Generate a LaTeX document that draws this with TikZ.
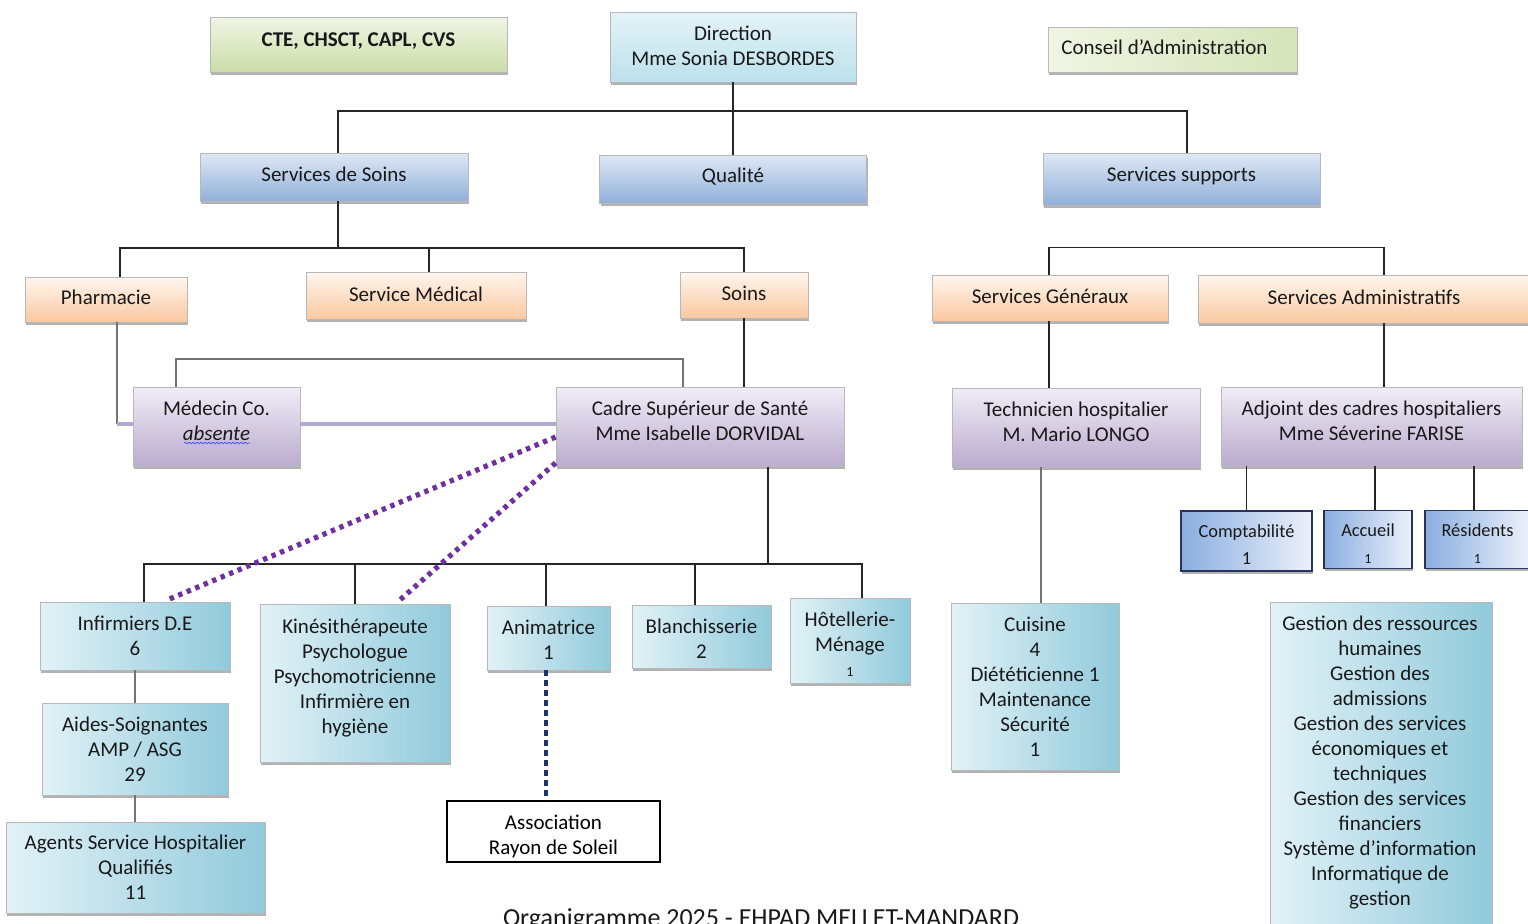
\documentclass[tikz,border=0pt]{standalone}
\usepackage{fontspec}
\setmainfont{Carlito}
\usetikzlibrary{shadows,decorations.pathmorphing}
\definecolor{G1}{RGB}{240,245,228}
\definecolor{G2}{RGB}{203,221,168}
\definecolor{D1}{RGB}{228,243,248}
\definecolor{D2}{RGB}{188,225,236}
\definecolor{B1}{RGB}{222,232,245}
\definecolor{B2}{RGB}{145,176,217}
\definecolor{O1}{RGB}{255,246,238}
\definecolor{O2}{RGB}{250,200,160}
\definecolor{P1}{RGB}{240,236,246}
\definecolor{P2}{RGB}{186,172,206}
\definecolor{C1}{RGB}{226,242,247}
\definecolor{C2}{RGB}{145,202,219}
\definecolor{K1}{RGB}{138,174,224}
\definecolor{K2}{RGB}{236,241,250}
\definecolor{KN}{RGB}{40,50,90}
\definecolor{PD}{RGB}{112,48,160}
\definecolor{NV}{RGB}{31,50,110}
\definecolor{LV}{RGB}{178,168,208}
\newcommand\boxfont{\fontsize{10.5}{12.5}\selectfont}
\newcommand\compfont{\fontsize{9.2}{13.5}\selectfont}
\newcommand\tinyfont{\fontsize{7}{8}\selectfont}
\newcommand\shiftup[2]{\raisebox{#1}[\height][\depth]{\begin{tabular}{@{}c@{}}#2\end{tabular}}}
\tikzset{
  box/.style={draw=black!28, line width=0.4pt, align=center, inner sep=1pt,
    font=\boxfont, text=black!90,
    drop shadow={shadow xshift=0.6pt, shadow yshift=-1.3pt, fill=black!60}},
  greenv/.style={box, top color=G1, bottom color=G2},
  greenh/.style={box, left color=G1, right color=G2!80},
  dirb/.style={box, top color=D1, bottom color=D2},
  blueb/.style={box, top color=B1, bottom color=B2},
  orab/.style={box, top color=O1, bottom color=O2},
  purb/.style={box, top color=P1, bottom color=P2},
  cyanb/.style={box, left color=C1, right color=C2},
  compb/.style={box, draw=KN, line width=0.6pt, left color=K1, right color=K2, font=\compfont},
  assocb/.style={draw=black, line width=0.6pt, fill=white, align=center, font=\boxfont, inner sep=1pt},
  plaintext/.style={align=center, font=\boxfont, text=black!90, inner sep=0pt},
  conn/.style={draw=black!85, line width=0.75pt},
  grayl/.style={draw=black!55, line width=0.75pt},
  lav/.style={draw=LV, line width=2pt},
  dotp/.style={draw=PD, line width=2.6pt, dash pattern=on 2.2pt off 2.4pt},
  dotn/.style={draw=NV, line width=2pt, dash pattern=on 3pt off 2pt}
}
\begin{document}
\begin{tikzpicture}[x=0.5pt,y=-0.5pt]
\useasboundingbox (0,0) rectangle (1528,923);
\clip (0,0) rectangle (1528,923);

% top row
\node[greenv, minimum width=148.5pt, minimum height=27.5pt, font=\boxfont\bfseries] (cte) at (358.5,44.5) {\shiftup{1.5pt}{CTE, CHSCT, CAPL, CVS}};
\node[dirb, minimum width=123pt, minimum height=35pt] (dir) at (733,47) {\shiftup{-0.5pt}{Direction\\Mme Sonia DESBORDES}};
\node[greenh, minimum width=124.5pt, minimum height=22.5pt] (ca) at (1172.5,49.5) {\shiftup{0pt}{Conseil d’Administration\hspace{8pt}\mbox{}}};

% second row
\node[blueb, minimum width=134pt, minimum height=24pt] (sds) at (334,177) {\shiftup{0.5pt}{Services de Soins}};
\node[blueb, minimum width=133.5pt, minimum height=24pt] (qual) at (733,179) {\shiftup{1pt}{Qualité}};
\node[blueb, minimum width=138.5pt, minimum height=26pt] (ssup) at (1181.5,179) {\shiftup{1.5pt}{Services supports}};

% third row
\node[orab, minimum width=81pt, minimum height=22.5pt] (pharm) at (106,299.5) {\shiftup{0pt}{Pharmacie}};
\node[orab, minimum width=110pt, minimum height=23.5pt] (smed) at (416,295.5) {\shiftup{-0.3pt}{Service Médical}};
\node[orab, minimum width=64pt, minimum height=23pt] (soins) at (744,295) {\shiftup{0pt}{Soins}};
\node[orab, minimum width=118pt, minimum height=23pt] (sgen) at (1050,298) {\shiftup{0pt}{Services Généraux}};
\node[orab, minimum width=166pt, minimum height=24pt] (sadm) at (1364,299) {\shiftup{0pt}{Services Administratifs}};

% fourth row
\node[purb, minimum width=83.5pt, minimum height=39.5pt] (med) at (216.5,427) {\shiftup{2pt}{Médecin Co.\\\textit{absente}}};
\node[purb, minimum width=144pt, minimum height=39.5pt] (cadre) at (700,427) {\shiftup{2pt}{Cadre Supérieur de Santé\\Mme Isabelle DORVIDAL}};
\node[purb, minimum width=124pt, minimum height=39.5pt] (tech) at (1076,427.5) {\shiftup{2pt}{Technicien hospitalier\\M. Mario LONGO}};
\node[purb, minimum width=150.5pt, minimum height=39.5pt] (adj) at (1371.5,426.5) {\shiftup{2pt}{Adjoint des cadres hospitaliers\\Mme Séverine FARISE}};

% admin sub-boxes
\node[compb, minimum width=65.5pt, minimum height=30pt] (compta) at (1246.5,541) {\shiftup{-2.5pt}{Comptabilité\\1}};
\node[compb, minimum width=44pt, minimum height=28.5pt] (acc) at (1368,539.5) {\shiftup{-2.5pt}{Accueil\\{\tinyfont 1}}};
\node[compb, minimum width=52.5pt, minimum height=28.5pt] (res) at (1477.5,539.5) {\shiftup{-2.5pt}{Résidents\\{\tinyfont 1}}};

% care staff
\node[cyanb, minimum width=95pt, minimum height=34pt] (inf) at (135,636) {Infirmiers D.E\\6};
\node[cyanb, minimum width=95pt, minimum height=79pt] (kine) at (355,683) {\shiftup{2.5pt}{Kinésithérapeute\\Psychologue\\Psychomotricienne\\Infirmière en\\hygiène}};
\node[cyanb, minimum width=61.5pt, minimum height=32pt] (anim) at (548.5,638) {\shiftup{-2pt}{Animatrice\\1}};
\node[cyanb, minimum width=69.5pt, minimum height=31.5pt] (blanch) at (701.5,636.5) {\shiftup{-2pt}{Blanchisserie\\2}};
\node[cyanb, minimum width=60pt, minimum height=42.5pt] (hot) at (850,640.5) {\shiftup{-3pt}{Hôtellerie-\\Ménage\\{\tinyfont 1}}};
\node[cyanb, minimum width=93pt, minimum height=46pt] (aides) at (135,749) {Aides-Soignantes\\AMP / ASG\\29};
\node[cyanb, minimum width=129.5pt, minimum height=45.5pt] (agents) at (135.5,867.5) {Agents Service Hospitalier\\Qualifiés\\11};
\node[assocb, minimum width=106.5pt, minimum height=30.5pt] (assoc) at (553.5,831.5) {\shiftup{-2.5pt}{Association\\Rayon de Soleil}};
\node[cyanb, minimum width=84pt, minimum height=83.5pt] (cuis) at (1035,686.5) {Cuisine\\4\\Diététicienne 1\\Maintenance\\Sécurité\\1};
\node[cyanb, minimum width=111pt, minimum height=174pt, anchor=north] (gestbox) at (1381,602) {};
\node[plaintext] (gest) at (1380,762.5) {Gestion des ressources\\humaines\\Gestion des\\admissions\\Gestion des services\\économiques et\\techniques\\Gestion des services\\financiers\\Système d’information\\Informatique de\\gestion};

% caption
\node[font=\fontsize{13}{15}\selectfont, text=black!90, anchor=base, inner sep=0pt] (cap) at (761,926) {Organigramme 2025 - EHPAD MELLET-MANDARD};

% spell-check squiggle under "absente"
\draw[decorate, decoration={snake, amplitude=0.45pt, segment length=2pt}, draw=blue!65, line width=0.4pt] (184,443) -- (250,443);

% connectors: direction
\coordinate (b1) at (733,111);
\draw[conn] (dir.south) -- (qual.north);
\draw[conn] ([xshift=2pt]sds.north) |- (b1) -| ([xshift=2.75pt]ssup.north);

% services de soins bus
\coordinate (b2) at (338,248);
\draw[conn] ([xshift=2pt]sds.south) -- (b2);
\draw[conn] ([xshift=7pt]pharm.north) |- (b2) -| (soins.north);
\draw[conn] ([xshift=6.5pt]smed.north) -- ([xshift=6.5pt]smed.north |- b2);

% services generaux / administratifs bus
\draw[conn] ([xshift=-0.5pt]sgen.north) -- ++(0,-27) -| ([xshift=10pt]sadm.north);
\draw[conn] ([xshift=-0.5pt]sgen.south) -- ([xshift=-0.5pt]sgen.south |- tech.north);
\draw[conn] ([xshift=10pt]sadm.south) -- ([xshift=10pt]sadm.south |- adj.north);
\draw[conn] (compta.north) -- (compta.north |- adj.south);
\draw[conn] ([xshift=3.5pt]acc.north) -- ([xshift=3.5pt]acc.north |- adj.south);
\draw[conn] ([xshift=-1.75pt]res.north) -- ([xshift=-1.75pt]res.north |- adj.south);
\draw[grayl] ([xshift=-17.5pt]tech.south) -- ([xshift=-17.5pt]tech.south |- cuis.north);

% soins to cadre
\draw[conn] (soins.south) -- (soins.south |- cadre.north);

% medecin links
\draw[grayl] ([xshift=-20.25pt]med.north) -- ++(0,-28) -| ([xshift=-8.5pt]cadre.north);
\draw[grayl] ([xshift=5.5pt]pharm.south) -- ([xshift=5.5pt,yshift=1.5pt]pharm.south |- med.west);
\draw[lav] ([xshift=5.5pt,yshift=1.5pt]pharm.south |- med.west) -- ([yshift=1.5pt]med.west);
\draw[lav] ([yshift=1.5pt]med.east) -- ([yshift=1.5pt]cadre.west);

% cadre bus
\coordinate (b4) at (768,564);
\draw[conn] ([xshift=34pt]cadre.south) -- (b4);
\draw[conn] ([xshift=4.5pt]inf.north) |- (b4) -| ([xshift=6pt]hot.north);
\draw[conn] (kine.north) -- (kine.north |- b4);
\draw[conn] ([xshift=-1.25pt]anim.north) -- ([xshift=-1.25pt]anim.north |- b4);
\draw[conn] ([xshift=-3.25pt]blanch.north) -- ([xshift=-3.25pt]blanch.north |- b4);

% dotted links
\draw[dotp] ([yshift=-5pt]cadre.west) -- ([xshift=16.5pt,yshift=1pt]inf.north);
\draw[dotp] ([yshift=2pt]cadre.south west) -- ([xshift=21.5pt,yshift=1pt]kine.north);
\draw[dotn] ([xshift=-1.25pt]anim.south) -- ([xshift=-1.25pt]anim.south |- assoc.north);

% care chain
\draw[grayl] (inf.south) -- (aides.north);
\draw[grayl] (aides.south) -- (aides.south |- agents.north);
\end{tikzpicture}
\end{document}
